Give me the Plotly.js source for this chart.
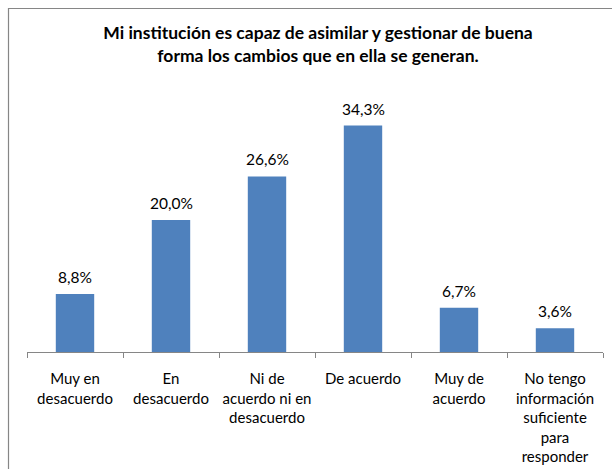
<!DOCTYPE html>
<html>
<head>
<meta charset="utf-8">
<script src="https://cdn.plot.ly/plotly-3.0.1.min.js"></script>
<style>
html,body{margin:0;padding:0;background:#fff;overflow:hidden;}
#chart{width:612px;height:469px;}
</style>
</head>
<body>
<div id="chart"></div>
<script>
const categories = [
  "Muy en<br>desacuerdo",
  "En<br>desacuerdo",
  "Ni de<br>acuerdo ni en<br>desacuerdo",
  "De acuerdo",
  "Muy de<br>acuerdo",
  "No tengo<br>información<br>suficiente<br>para<br>responder"
];
const values = [8.8, 20.0, 26.6, 34.3, 6.7, 3.6];
const chartTitle = "<b>Mi institución es capaz de asimilar y gestionar de buena<br>forma los cambios que en ella se generan.</b>";

const FONT = "Lato, 'Open Sans', sans-serif";
const W = 612, H = 469;
const mL = 27, mR = 9, mT = 88, mB = 117;
const plotW = W - mL - mR, plotH = H - mT - mB;

const trace = {
  type: "bar",
  x: categories,
  y: values,
  marker: {color: "#4F81BD", line: {width: 0}},
  hoverinfo: "none"
};

const labels = categories.map((c, i) => ({
  x: c, y: values[i],
  xref: "x", yref: "y",
  text: values[i].toFixed(1).replace(".", ",") + "%",
  showarrow: false,
  yanchor: "bottom",
  yshift: 6,
  font: {family: FONT, size: 15.5, color: "#000"}
}));

const layout = {
  width: W, height: H,
  margin: {l: mL, r: mR, t: mT, b: mB, pad: 0},
  separators: ",.",
  paper_bgcolor: "#fff",
  plot_bgcolor: "#fff",
  bargap: 0.6,
  showlegend: false,
  title: {
    text: chartTitle,
    font: {family: FONT, size: 17.5, color: "#000"},
    xref: "container", x: 318 / W, xanchor: "center",
    yref: "container", y: 1 - 39 / H, yanchor: "top"
  },
  xaxis: {
    type: "category",
    tickson: "boundaries",
    ticks: "outside",
    ticklen: 5,
    tickcolor: "#868686",
    showline: true,
    linecolor: "#868686",
    linewidth: 1,
    showgrid: false,
    zeroline: false,
    tickangle: 0,
    automargin: false,
    tickfont: {family: FONT, size: 15, color: "#000"},
    ticklabelstandoff: 13,
    fixedrange: true
  },
  yaxis: {
    visible: false,
    range: [0, 40],
    showgrid: false,
    zeroline: false,
    fixedrange: true
  },
  annotations: labels,
  shapes: [{
    type: "rect",
    xref: "paper", yref: "paper",
    x0: (8.5 - mL) / plotW, x1: (W + 20 - mL) / plotW,
    y0: -(H + 20 - mT - plotH) / plotH, y1: (H - 8.5 - mB) / plotH,
    line: {color: "#868686", width: 1.2},
    fillcolor: "rgba(0,0,0,0)",
    layer: "below"
  }]
};

Plotly.newPlot("chart", [trace], layout, {displayModeBar: false, staticPlot: true});
</script>
</body>
</html>
